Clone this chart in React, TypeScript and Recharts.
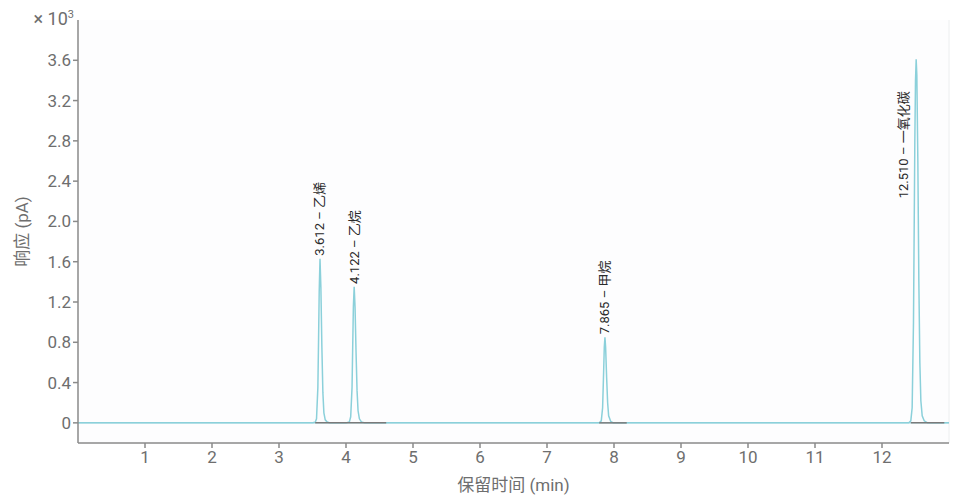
import React from "react";
import {
  LineChart,
  Line,
  XAxis,
  YAxis,
  CartesianGrid,
  ReferenceLine,
  ReferenceDot,
  Label,
} from "recharts";

// retention time (min) and response (x10^3 pA)
const TIMES = [
  0, 3.5, 3.54, 3.56, 3.58, 3.59, 3.6, 3.612, 3.625, 3.64, 3.655, 3.67, 3.69, 3.72, 3.76,
  4.0, 4.05, 4.07, 4.09, 4.1, 4.11, 4.122, 4.135, 4.15, 4.165, 4.18, 4.2, 4.23, 4.28,
  7.78, 7.81, 7.83, 7.845, 7.855, 7.865, 7.875, 7.89, 7.905, 7.92, 7.95, 7.99,
  12.4, 12.43, 12.45, 12.47, 12.48, 12.49, 12.5, 12.51, 12.52, 12.535, 12.55, 12.565, 12.58, 12.6, 12.63, 12.68,
  13,
];
const RESPONSE = [
  0, 0, 0.005, 0.04, 0.35, 0.8, 1.3, 1.63, 1.35, 0.75, 0.3, 0.1, 0.03, 0.008, 0,
  0, 0.01, 0.06, 0.35, 0.75, 1.15, 1.35, 1.15, 0.7, 0.32, 0.12, 0.04, 0.01, 0,
  0, 0.02, 0.15, 0.5, 0.75, 0.85, 0.75, 0.45, 0.2, 0.07, 0.015, 0,
  0, 0.02, 0.15, 1.0, 1.9, 2.8, 3.4, 3.61, 3.45, 2.6, 1.4, 0.6, 0.22, 0.07, 0.02, 0,
  0,
];

const PEAK_TIMES = [3.612, 4.122, 7.865, 12.51];
const PEAK_HEIGHTS = [1.63, 1.35, 0.85, 2.2];
const PEAK_NAMES = ["3.612 – 乙烯", "4.122 – 乙烷", "7.865 – 甲烷", "12.510 – 一氧化碳"];
const PEAK_DX = [0, 0, 0, -13];

// integration baselines [start, end]
const BASELINES = [
  [3.54, 4.03],
  [4.03, 4.6],
  [7.78, 8.19],
  [12.43, 12.93],
];

const X_TICKS = [1, 2, 3, 4, 5, 6, 7, 8, 9, 10, 11, 12];
const Y_TICKS = [0, 0.4, 0.8, 1.2, 1.6, 2.0, 2.4, 2.8, 3.2, 3.6];

const data = TIMES.map((t, i) => ({ t, v: RESPONSE[i] }));

const FONT = "Roboto, 'Noto Sans CJK SC', sans-serif";
const AXIS = "#8a8a8a";
const TICK = { fill: "#6e6e6e", fontSize: 17, fontFamily: FONT };

export default function App() {
  return (
    <div style={{ position: "absolute", left: 0, top: 0, background: "#fff" }}>
      <LineChart
        width={959}
        height={496}
        data={data}
        margin={{ top: 20, right: 10, left: 0, bottom: 0 }}
      >
        <CartesianGrid horizontal={false} vertical={false} fill="#fdfdfe" />
        <XAxis
          dataKey="t"
          type="number"
          domain={[0, 13]}
          ticks={X_TICKS}
          height={53}
          tick={TICK}
          tickSize={5}
          tickMargin={3}
          stroke={AXIS}
          strokeWidth={1.5}
        >
          <Label
            value="保留时间 (min)"
            position="insideBottom"
            offset={5}
            style={{ fill: "#6e6e6e", fontSize: 17, fontFamily: FONT }}
          />
        </XAxis>
        <YAxis
          type="number"
          domain={[-0.2, 4.0]}
          ticks={Y_TICKS}
          tickFormatter={(v: number) => (v === 0 ? "0" : v.toFixed(1))}
          width={78}
          tick={TICK}
          tickSize={5}
          tickMargin={2}
          stroke={AXIS}
          strokeWidth={1.5}
          allowDataOverflow
        >
          <Label
            value="响应 (pA)"
            angle={-90}
            position="insideLeft"
            offset={22}
            style={{ fill: "#6e6e6e", fontSize: 17, fontFamily: FONT, textAnchor: "middle" }}
          />
        </YAxis>
        <ReferenceLine x={13} stroke="#eceef0" />
        <ReferenceLine y={0} stroke="#b2e0e7" strokeWidth={1.5} />
        <Line
          dataKey="v"
          type="linear"
          stroke="#8bd0da"
          strokeWidth={1.5}
          dot={false}
          isAnimationActive={false}
        />
        {BASELINES.map((b, i) => (
          <ReferenceLine
            key={`b-${i}`}
            segment={[
              { x: b[0], y: 0 },
              { x: b[1], y: 0 },
            ]}
            stroke="#7a7a7a"
            strokeWidth={1.5}
          />
        ))}
        {PEAK_TIMES.map((t, i) => (
          <ReferenceDot
            key={`p-${i}`}
            x={t}
            y={PEAK_HEIGHTS[i]}
            ifOverflow="visible"
            shape={(p: any) => {
              const x = p.cx + PEAK_DX[i] + 4.5;
              const y = p.cy - 3;
              return (
                <text
                  x={x}
                  y={y}
                  transform={`rotate(-90, ${x}, ${y})`}
                  fontSize={13}
                  fontFamily={FONT}
                  fill="#2a2a2a"
                  textAnchor="start"
                >
                  {PEAK_NAMES[i]}
                </text>
              );
            }}
          />
        ))}
        <ReferenceDot
          x={0}
          y={4.0}
          ifOverflow="visible"
          shape={(p: any) => (
            <text
              x={p.cx - 4}
              y={p.cy + 5}
              textAnchor="end"
              fontSize={18}
              fontFamily={FONT}
              fill="#6e6e6e"
            >
              × 10
              <tspan dy={-7} fontSize={11}>
                3
              </tspan>
            </text>
          )}
        />
      </LineChart>
    </div>
  );
}
